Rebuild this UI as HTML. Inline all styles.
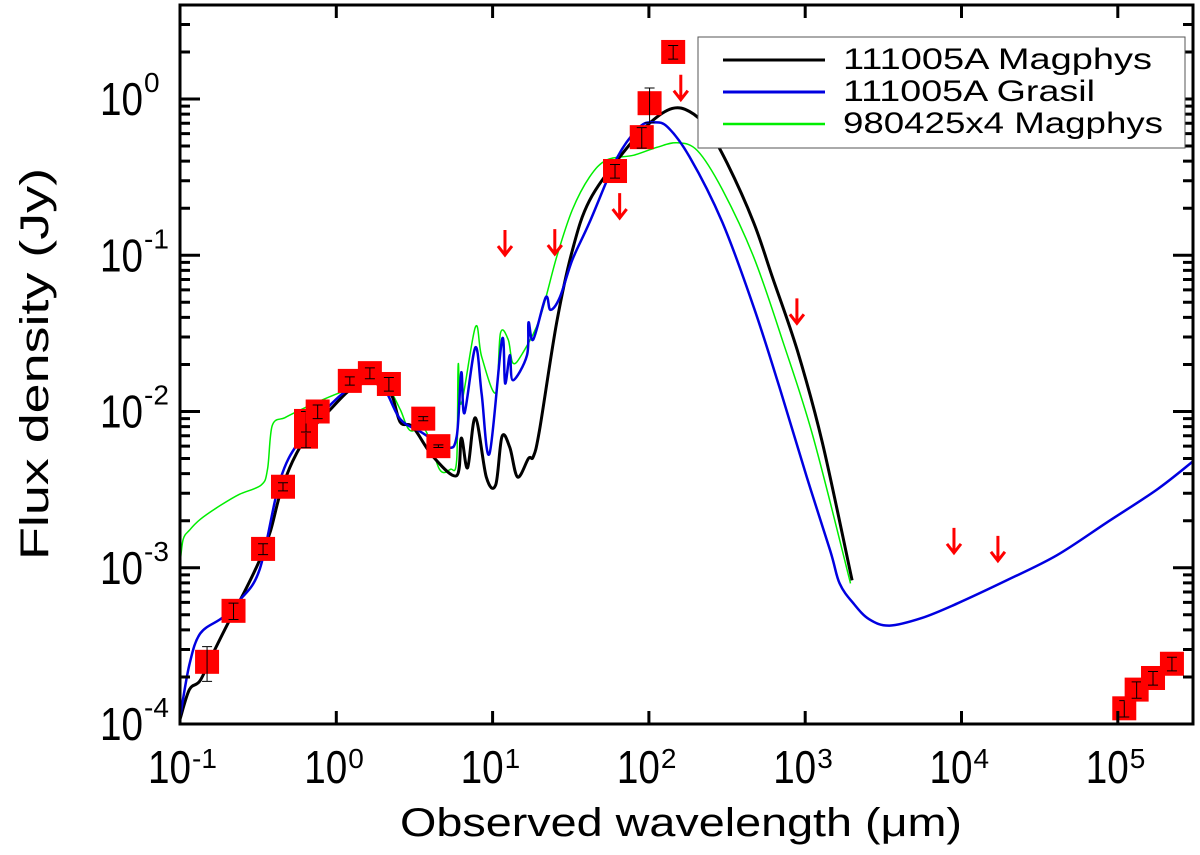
<!DOCTYPE html>
<html><head><meta charset="utf-8"><style>
body{margin:0;background:#fff;width:1200px;height:855px;overflow:hidden}
svg{display:block;font-family:"Liberation Sans",sans-serif}
</style></head><body>
<svg id="chart" width="1200" height="855">
<g id="curves"></g>
<g id="marks"></g>
<g id="axes"></g>
<g>
<rect x="698" y="37" width="487" height="111" fill="#fff" stroke="#555" stroke-width="1"/>
<line x1="723" y1="60" x2="825" y2="60" stroke="#000" stroke-width="3"/>
<text x="843" y="69" font-size="30" textLength="309" lengthAdjust="spacingAndGlyphs">111005A Magphys</text>
<line x1="723" y1="92" x2="825" y2="92" stroke="#0000e0" stroke-width="3"/>
<text x="843" y="101" font-size="30" textLength="252" lengthAdjust="spacingAndGlyphs">111005A Grasil</text>
<line x1="723" y1="124" x2="825" y2="124" stroke="#00ee00" stroke-width="2.5"/>
<text x="843" y="133" font-size="30" textLength="320" lengthAdjust="spacingAndGlyphs">980425x4 Magphys</text>
</g>
<text x="400" y="836" font-size="40" textLength="562" lengthAdjust="spacingAndGlyphs">Observed wavelength (μm)</text>
<text transform="translate(48,560) rotate(-90)" font-size="40" textLength="392" lengthAdjust="spacingAndGlyphs">Flux density (Jy)</text>
</svg>
<script>
const magphysLogLam=[-1.00,-0.94,-0.87,-0.78,-0.68,-0.58,-0.49,-0.42,-0.36,-0.28,-0.17,-0.04,0.09,0.22,0.31,0.36,0.41,0.49,0.62,0.77,0.80,0.84,0.89,0.96,1.02,1.06,1.11,1.16,1.23,1.26,1.30,1.41,1.51,1.62,1.83,2.01,2.15,2.26,2.37,2.50,2.67,2.79,2.95,3.11,3.30];
const magphysLogFlux=[-3.97,-3.78,-3.72,-3.53,-3.33,-3.14,-2.95,-2.76,-2.53,-2.32,-2.13,-1.99,-1.86,-1.81,-1.86,-1.91,-2.07,-2.10,-2.29,-2.41,-2.17,-2.36,-2.04,-2.42,-2.47,-2.16,-2.23,-2.42,-2.30,-2.29,-2.12,-1.43,-0.97,-0.65,-0.35,-0.15,-0.06,-0.08,-0.18,-0.41,-0.79,-1.14,-1.61,-2.20,-3.08];
const grasilLogLam=[-1.00,-0.94,-0.87,-0.73,-0.62,-0.49,-0.36,-0.23,-0.04,0.09,0.22,0.31,0.41,0.54,0.71,0.77,0.80,0.82,0.89,0.93,0.98,1.06,1.08,1.11,1.13,1.22,1.23,1.26,1.34,1.37,1.43,1.51,1.62,1.80,1.94,2.03,2.12,2.26,2.47,2.67,2.84,3.01,3.16,3.22,3.31,3.41,3.54,3.75,3.97,4.29,4.61,4.93,5.25,5.48];
const grasilLogFlux=[-3.96,-3.62,-3.42,-3.32,-3.21,-3.01,-2.44,-2.18,-1.96,-1.85,-1.81,-1.86,-2.05,-2.13,-2.23,-2.16,-1.75,-2.01,-1.59,-1.89,-2.27,-1.54,-1.82,-1.64,-1.80,-1.64,-1.43,-1.54,-1.27,-1.35,-1.27,-1.03,-0.79,-0.37,-0.18,-0.15,-0.18,-0.37,-0.79,-1.33,-1.86,-2.42,-2.89,-3.10,-3.23,-3.33,-3.37,-3.32,-3.23,-3.08,-2.92,-2.71,-2.50,-2.32];
const grbLogLam=[-1.00,-0.98,-0.94,-0.87,-0.74,-0.62,-0.48,-0.44,-0.41,-0.33,-0.23,-0.10,0.02,0.15,0.25,0.34,0.41,0.47,0.57,0.66,0.73,0.77,0.78,0.80,0.89,0.93,1.02,1.05,1.10,1.13,1.19,1.30,1.41,1.51,1.62,1.73,1.90,2.05,2.18,2.31,2.47,2.67,2.86,3.05,3.29];
const grbLogFlux=[-2.98,-2.82,-2.76,-2.69,-2.60,-2.53,-2.47,-2.37,-2.09,-2.04,-1.99,-1.93,-1.88,-1.83,-1.80,-1.86,-1.99,-2.12,-2.12,-2.37,-2.37,-2.31,-1.70,-1.95,-1.46,-1.65,-1.88,-1.50,-1.54,-1.69,-1.63,-1.41,-1.01,-0.71,-0.50,-0.39,-0.36,-0.31,-0.28,-0.33,-0.58,-1.01,-1.56,-2.16,-3.10];
const obsWavelength=[0.149,0.22,0.34,0.456,0.64,0.64,0.76,1.22,1.64,2.17,3.6,4.5,60.7,90,101,143,1.1e5,1.32e5,1.68e5,2.22e5];
const obsFlux=[2.5e-4,5.3e-4,1.32e-3,3.3e-3,6.9e-3,8.7e-3,1.0e-2,0.0157,0.0176,0.0150,0.009,0.006,0.346,0.57,0.94,2.0,1.26e-4,1.66e-4,1.97e-4,2.43e-4];
const obsErrFrac=[0.25,0.12,0.08,0.06,0.15,0.15,0.1,0.06,0.08,0.1,0.03,0.02,0.1,0.15,0.25,0.1,0.12,0.12,0.1,0.1];
const limWavelength=[12,25,65,160,885,8950,17100];
const limFlux=[0.145,0.147,0.25,1.43,0.053,1.8e-3,1.6e-3];
const xTickExp=[-1,0,1,2,3,4,5];
const yTickExp=[-4,-3,-2,-1,0];

const X0=180,X1=1193,Y0=5,Y1=724;
const LXMIN=-1,LXMAX=-1+(X1-X0)/156.3,LYMIN=-4,LYMAX=(724-5)/156.25-4;
const xs=l=>X0+(l-LXMIN)/(LXMAX-LXMIN)*(X1-X0);
const ys=l=>Y1-(l-LYMIN)/(LYMAX-LYMIN)*(Y1-Y0);
const NS="http://www.w3.org/2000/svg";
function mk(t,a,p){const e=document.createElementNS(NS,t);for(const k in a)e.setAttribute(k,a[k]);p.appendChild(e);return e;}
const cg=document.getElementById('curves'),mg=document.getElementById('marks'),ag=document.getElementById('axes');
function curve(lx,ly,col,w,name){
 const P=lx.map((v,i)=>[xs(v),ys(ly[i])]);
 let d='M'+P[0][0].toFixed(1)+','+P[0][1].toFixed(1);
 for(let i=0;i<P.length-1;i++){
  const p0=P[Math.max(i-1,0)],p1=P[i],p2=P[i+1],p3=P[Math.min(i+2,P.length-1)];
  const c1=[p1[0]+(p2[0]-p0[0])/6,p1[1]+(p2[1]-p0[1])/6],c2=[p2[0]-(p3[0]-p1[0])/6,p2[1]-(p3[1]-p1[1])/6];
  d+=`C${c1[0].toFixed(1)},${c1[1].toFixed(1)} ${c2[0].toFixed(1)},${c2[1].toFixed(1)} ${p2[0].toFixed(1)},${p2[1].toFixed(1)}`;
 }
 const p=mk('path',{d:d,fill:'none',stroke:col,'stroke-width':w,'stroke-linejoin':'round'},cg);
 
 
}
curve(grbLogLam,grbLogFlux,'#00ee00',1.5,'curve-980425-magphys');
curve(magphysLogLam,magphysLogFlux,'#000',3,'curve-111005a-magphys');
curve(grasilLogLam,grasilLogFlux,'#0000e0',2.5,'curve-111005a-grasil');
obsWavelength.forEach((w,i)=>{
 const cx=xs(Math.log10(w)),cy=ys(Math.log10(obsFlux[i]));
 const g=mk('g',{},mg);
 
 
 mk('rect',{x:cx-12,y:cy-12,width:24,height:24,fill:'#ff0000'},g);
 const f=obsErrFrac[i],yt=ys(Math.log10(obsFlux[i]*(1+f))),yb=ys(Math.log10(obsFlux[i]*(1-f)));
 mk('path',{d:`M${cx},${yt}V${yb}M${cx-5},${yt}H${cx+5}M${cx-5},${yb}H${cx+5}`,stroke:'#000','stroke-width':1,fill:'none'},g);
});
limWavelength.forEach((w,i)=>{
 const cx=xs(Math.log10(w)),cy=ys(Math.log10(limFlux[i]));
 const a=mk('path',{d:`M${cx},${cy}V${cy+24}M${cx-7},${cy+16}L${cx},${cy+25}L${cx+7},${cy+16}`,stroke:'#ff0000','stroke-width':3,fill:'none'},mg);
 
 
});
mk('rect',{x:X0,y:Y0,width:X1-X0,height:Y1-Y0,fill:'none',stroke:'#000','stroke-width':3},ag);
xTickExp.forEach(e=>{
 const x=xs(e);
 mk('path',{d:`M${x},${Y1}v-13M${x},${Y0}v13`,stroke:'#000','stroke-width':3},ag);
 const t=mk('text',{x:x-32,y:783,'font-size':46,textLength:43,lengthAdjust:'spacingAndGlyphs'},ag);
 
 
 t.textContent='10';
 const s=mk('text',{x:x+12,y:768,'font-size':28},ag);s.textContent=String(e).replace('-','\u2011');
});
for(let e=-4;e<1;e++)for(let m=1;m<10;m++){
 const l=e+Math.log10(m);if(l>LYMAX)continue;
 const y=ys(l),len=m==1?20:10;
 mk('path',{d:`M${X0},${y}h${len}M${X1},${y}h${-len}`,stroke:'#000','stroke-width':3},ag);
}
yTickExp.forEach(e=>{
 const y=ys(e);
 const t=mk('text',{x:100,y:y+16,'font-size':46,textLength:43,lengthAdjust:'spacingAndGlyphs'},ag);
 
 
 t.textContent='10';
 const s=mk('text',{x:144,y:y-7,'font-size':28},ag);s.textContent=String(e).replace('-','\u2011');
});
</script>
</body></html>
